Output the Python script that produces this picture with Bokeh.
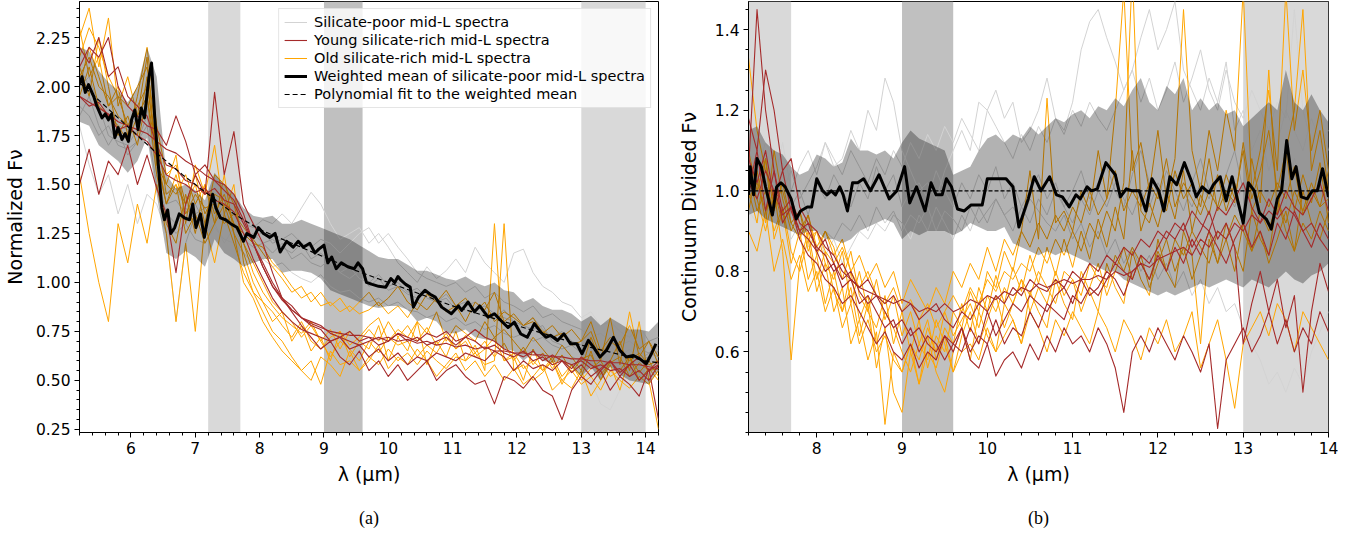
from bokeh.plotting import figure
from bokeh.models import (BoxAnnotation, FixedTicker, PrintfTickFormatter, Legend,
                          LegendItem, Title, Range1d)
from bokeh.layouts import row
from bokeh.embed import file_html
from bokeh.resources import INLINE

# ---------------- panel (a): normalized spectra ----------------
WL_A = [5.2, 5.35, 5.5, 5.65, 5.8, 5.95, 6.1, 6.25, 6.4, 6.55,
        6.7, 6.85, 7.0, 7.15, 7.3, 7.45, 7.6, 7.75, 7.9, 8.05,
        8.2, 8.35, 8.5, 8.65, 8.8, 8.95, 9.1, 9.25, 9.4, 9.55,
        9.7, 9.85, 10.0, 10.15, 10.3, 10.45, 10.6, 10.75, 10.9, 11.05,
        11.2, 11.35, 11.5, 11.65, 11.8, 11.95, 12.1, 12.25, 12.4, 12.55,
        12.7, 12.85, 13.0, 13.15, 13.3, 13.45, 13.6, 13.75, 13.9, 14.05,
        14.2]

POOR_A1 = [2.10, 2.00, 1.90, 1.85, 1.80, 1.78, 1.85, 1.95, 1.60, 1.40,
           1.42, 1.35, 1.40, 1.30, 1.38, 1.32, 1.35, 1.30, 1.28, 1.32,
           1.30, 1.35, 1.30, 1.38, 1.46, 1.40, 1.30, 1.22, 1.25, 1.28,
           1.20, 1.25, 1.18, 1.10, 1.05, 1.00, 1.08, 1.02, 1.06, 1.12,
           1.05, 1.18, 1.10, 1.05, 1.00, 1.15, 1.17, 1.05, 0.98, 0.95,
           0.90, 0.88, 0.82, 0.85, 0.78, 0.80, 0.75, 0.72, 0.78, 0.70,
           0.72]
POOR_A2 = [1.80, 1.60, 1.45, 1.55, 1.35, 1.50, 1.30, 1.45, 1.40, 1.25,
           0.80, 1.20, 1.35, 1.25, 1.30, 1.20, 1.28, 1.22, 1.18, 1.20,
           1.15, 1.20, 1.12, 1.15, 1.10, 1.08, 1.12, 1.05, 1.02, 1.06,
           0.98, 1.02, 0.96, 0.98, 0.94, 0.92, 0.95, 0.90, 0.92, 0.86,
           0.88, 0.90, 0.85, 0.82, 0.86, 0.80, 0.78, 0.82, 0.76, 0.72,
           0.75, 0.70, 0.68, 0.72, 0.65, 0.68, 0.62, 0.66, 0.60, 0.64,
           0.62]
POOR_A3 = [2.00, 2.05, 1.90, 1.75, 1.72, 1.70, 1.78, 1.90, 1.55, 1.35,
           1.30, 1.38, 1.32, 1.28, 1.35, 1.30, 1.25, 1.22, 1.25, 1.20,
           1.22, 1.18, 1.15, 1.20, 1.12, 1.15, 1.10, 1.05, 1.08, 1.02,
           1.00, 1.04, 0.98, 1.00, 0.95, 0.97, 0.92, 0.90, 0.94, 0.88,
           0.90, 0.86, 0.88, 0.84, 0.82, 0.80, 0.78, 0.76, 0.78, 0.70,
           0.68, 0.62, 0.60, 0.50, 0.38, 0.35, 0.45, 0.55, 0.60, 0.62,
           0.65]
POOR_A4 = [1.85, 1.95, 1.80, 1.70, 1.78, 1.65, 1.72, 1.85, 1.58, 1.45,
           1.48, 1.40, 1.35, 1.38, 1.32, 1.36, 1.30, 1.25, 1.22, 1.26,
           1.20, 1.22, 1.25, 1.20, 1.18, 1.22, 1.20, 1.15, 1.20, 1.25,
           1.28, 1.20, 1.25, 1.18, 1.12, 1.05, 1.02, 1.00, 0.98, 1.00,
           0.95, 0.98, 0.92, 0.95, 0.90, 0.88, 0.85, 0.88, 0.82, 0.84,
           0.80, 0.78, 0.76, 0.72, 0.74, 0.70, 0.68, 0.70, 0.66, 0.64,
           0.68]
POOR_A5 = [1.90, 1.85, 1.75, 1.80, 1.70, 1.68, 1.72, 1.80, 1.50, 1.32,
           1.25, 1.30, 1.22, 1.20, 1.28, 1.22, 1.20, 1.15, 1.10, 1.12,
           1.08, 1.10, 1.05, 1.02, 1.00, 1.04, 0.98, 0.95, 0.96, 0.92,
           0.90, 0.92, 0.88, 0.90, 0.86, 0.85, 0.82, 0.84, 0.80, 0.82,
           0.78, 0.80, 0.76, 0.78, 0.74, 0.72, 0.74, 0.70, 0.72, 0.68,
           0.66, 0.68, 0.64, 0.62, 0.60, 0.58, 0.55, 0.60, 0.56, 0.58,
           0.55]

YOUNG_A1 = [1.95, 1.92, 1.89, 1.86, 1.82, 1.80, 1.78, 1.76, 1.72, 1.68,
            1.66, 1.62, 1.59, 1.55, 1.52, 1.47, 1.42, 1.32, 1.20, 1.08,
            0.98, 0.91, 0.86, 0.82, 0.79, 0.77, 0.75, 0.74, 0.73, 0.73,
            0.72, 0.71, 0.72, 0.70, 0.71, 0.69, 0.70, 0.68, 0.69, 0.67,
            0.68, 0.66, 0.67, 0.65, 0.65, 0.64, 0.64, 0.63, 0.63, 0.62,
            0.62, 0.61, 0.61, 0.60, 0.60, 0.59, 0.59, 0.58, 0.58, 0.57,
            0.56]
YOUNG_A2 = [2.20, 2.12, 2.25, 2.05, 2.10, 1.95, 1.90, 1.85, 1.70, 1.60,
            1.58, 1.52, 1.50, 1.45, 1.48, 1.42, 1.40, 1.30, 1.20, 1.08,
            0.98, 0.92, 0.86, 0.82, 0.80, 0.78, 0.74, 0.72, 0.75, 0.70,
            0.72, 0.68, 0.70, 0.74, 0.70, 0.72, 0.68, 0.70, 0.72, 0.68,
            0.72, 0.70, 0.66, 0.68, 0.64, 0.62, 0.65, 0.60, 0.62, 0.58,
            0.60, 0.56, 0.62, 0.58, 0.55, 0.60, 0.52, 0.58, 0.62, 0.55,
            0.60]
YOUNG_A3 = [1.50, 1.68, 1.45, 1.62, 1.55, 1.70, 1.50, 1.65, 1.48, 1.35,
            1.05, 1.40, 1.55, 1.45, 1.97, 1.55, 1.77, 1.40, 1.30, 1.20,
            1.05, 0.92, 0.85, 0.78, 0.72, 0.66, 0.70, 0.62, 0.58, 0.65,
            0.55, 0.60, 0.52, 0.58, 0.50, 0.55, 0.60, 0.50, 0.55, 0.58,
            0.52, 0.48, 0.50, 0.38, 0.52, 0.50, 0.46, 0.52, 0.45, 0.42,
            0.30, 0.45, 0.52, 0.48, 0.55, 0.45, 0.52, 0.48, 0.42, 0.56,
            0.30]
YOUNG_A4 = [2.10, 2.20, 2.15, 2.25, 2.00, 1.90, 1.85, 1.80, 1.78, 1.70,
            1.85, 1.72, 1.55, 1.60, 1.52, 1.50, 1.45, 1.35, 1.20, 1.10,
            1.00, 0.92, 0.88, 0.82, 0.78, 0.76, 0.70, 0.72, 0.66, 0.68,
            0.62, 0.66, 0.60, 0.64, 0.58, 0.62, 0.60, 0.64, 0.62, 0.60,
            0.64, 0.62, 0.60, 0.65, 0.62, 0.55, 0.60, 0.56, 0.58, 0.55,
            0.60, 0.54, 0.58, 0.52, 0.56, 0.60, 0.54, 0.58, 0.50, 0.55,
            0.58]
YOUNG_A5 = [1.95, 1.90, 1.92, 1.85, 1.78, 1.80, 1.75, 1.72, 1.65, 1.55,
            1.52, 1.50, 1.46, 1.48, 1.42, 1.40, 1.36, 1.25, 1.12, 1.02,
            0.92, 0.85, 0.80, 0.76, 0.74, 0.72, 0.70, 0.72, 0.70, 0.68,
            0.70, 0.72, 0.70, 0.74, 0.72, 0.70, 0.74, 0.72, 0.75, 0.70,
            0.72, 0.76, 0.72, 0.70, 0.66, 0.64, 0.62, 0.65, 0.60, 0.63,
            0.60, 0.58, 0.60, 0.56, 0.58, 0.55, 0.56, 0.52, 0.55, 0.50,
            0.58]

OLD_A1 = [2.15, 2.30, 2.20, 2.05, 1.95, 1.90, 2.00, 2.10, 1.75, 1.45,
          1.50, 1.40, 1.55, 1.35, 1.45, 1.42, 1.30, 1.25, 1.20, 1.18,
          1.10, 1.05, 0.98, 0.92, 0.95, 0.88, 0.90, 0.85, 0.88, 0.84,
          0.86, 0.90, 0.84, 0.88, 0.82, 0.90, 0.86, 0.92, 0.85, 0.88,
          0.80, 0.90, 0.86, 0.95, 0.80, 0.84, 0.78, 0.80, 0.75, 0.72,
          0.74, 0.68, 0.70, 0.75, 0.62, 0.70, 0.66, 0.60, 0.64, 0.58,
          0.60]
OLD_A2 = [2.25, 2.40, 2.10, 2.35, 1.90, 2.05, 1.85, 2.15, 1.60, 1.50,
          1.65, 1.30, 1.60, 1.45, 1.70, 1.35, 1.50, 1.10, 0.95, 0.90,
          0.80, 0.85, 0.70, 0.78, 0.65, 0.72, 0.60, 0.75, 0.62, 0.70,
          0.66, 0.78, 0.60, 0.72, 0.65, 0.80, 0.58, 0.70, 0.62, 0.75,
          0.60, 0.68, 0.55, 1.30, 0.60, 0.62, 0.50, 0.66, 0.55, 0.60,
          0.48, 0.58, 0.52, 0.65, 0.50, 0.60, 0.70, 0.55, 0.80, 0.50,
          0.25]
OLD_A3 = [1.55, 1.25, 1.00, 0.80, 1.30, 1.10, 1.40, 1.20, 1.50, 1.25,
          0.80, 1.20, 0.75, 1.30, 1.10, 1.35, 1.20, 1.05, 0.95, 0.85,
          0.75, 0.70, 0.62, 0.55, 0.60, 0.48, 0.65, 0.58, 0.60, 0.55,
          0.62, 0.58, 0.66, 0.60, 0.64, 0.58, 0.65, 0.60, 0.56, 0.62,
          0.60, 0.64, 0.58, 0.60, 1.30, 0.55, 0.58, 0.50, 0.54, 0.60,
          0.50, 0.55, 0.48, 0.52, 0.45, 0.55, 0.50, 0.46, 0.52, 0.48,
          0.55]
OLD_A4 = [2.05, 2.15, 2.00, 1.95, 1.85, 1.80, 1.90, 2.00, 1.70, 1.50,
          1.45, 1.55, 1.40, 1.50, 1.35, 1.45, 1.30, 1.20, 1.05, 0.95,
          0.88, 0.82, 0.78, 0.74, 0.80, 0.70, 0.76, 0.66, 0.75, 0.70,
          0.76, 0.70, 0.80, 0.72, 0.78, 0.70, 0.77, 0.68, 0.74, 0.66,
          0.73, 0.64, 0.70, 0.62, 0.69, 0.60, 0.67, 0.58, 0.64, 0.56,
          0.63, 0.54, 0.61, 0.63, 0.53, 0.59, 0.62, 0.52, 0.59, 0.55,
          0.56]
OLD_A5 = [1.95, 2.10, 1.90, 1.85, 1.80, 1.72, 1.85, 1.95, 1.65, 1.40,
          1.55, 1.35, 1.45, 1.38, 1.40, 1.30, 1.35, 1.28, 1.22, 1.15,
          1.08, 1.02, 0.95, 0.98, 0.90, 0.95, 0.88, 0.92, 0.85, 0.90,
          0.95, 0.88, 0.92, 0.98, 0.90, 0.86, 0.94, 0.90, 0.96, 0.88,
          0.92, 0.85, 0.90, 0.80, 0.85, 0.82, 0.78, 0.82, 0.74, 0.78,
          0.72, 0.76, 0.70, 0.80, 0.65, 0.72, 0.68, 0.78, 0.66, 0.70,
          0.62]
OLD_A6 = [2.10, 1.95, 2.25, 2.00, 1.75, 1.85, 1.70, 1.95, 1.55, 1.30,
          1.20, 1.45, 1.25, 1.50, 1.30, 1.55, 1.25, 1.00, 0.92, 0.80,
          0.72, 0.65, 0.60, 0.55, 0.50, 0.62, 0.58, 0.52, 0.65, 0.55,
          0.60, 0.68, 0.56, 0.62, 0.58, 0.66, 0.60, 0.52, 0.58, 0.64,
          0.55, 0.60, 0.52, 0.58, 0.50, 0.56, 0.48, 0.52, 0.58, 0.45,
          0.50, 0.46, 0.55, 0.42, 0.50, 0.58, 0.45, 0.62, 0.50, 0.56,
          0.50]
OLD_A7 = [2.00, 2.20, 2.05, 1.90, 1.95, 1.80, 1.75, 2.05, 1.62, 1.40,
          1.50, 1.25, 1.35, 1.20, 1.30, 1.40, 1.25, 1.15, 1.00, 0.90,
          0.85, 0.78, 0.72, 0.80, 0.70, 0.66, 0.72, 0.75, 0.68, 0.72,
          0.78, 0.82, 0.70, 0.76, 0.72, 0.80, 0.74, 0.85, 0.70, 0.78,
          0.74, 0.70, 0.80, 0.72, 0.76, 0.70, 0.64, 0.72, 0.66, 0.60,
          0.68, 0.62, 0.55, 0.72, 0.60, 0.82, 0.58, 0.85, 0.62, 0.70,
          0.58]
OLD_A8 = [2.30, 2.05, 2.15, 1.90, 2.00, 1.75, 1.95, 2.20, 1.80, 1.55,
          1.60, 1.40, 1.50, 1.30, 1.55, 1.50, 1.40, 1.20, 1.10, 1.00,
          0.90, 0.85, 0.80, 0.72, 0.78, 0.70, 0.62, 0.70, 0.66, 0.60,
          0.70, 0.64, 0.72, 0.68, 0.70, 0.62, 0.68, 0.64, 0.72, 0.66,
          0.70, 0.62, 0.66, 0.72, 0.60, 0.64, 0.56, 0.60, 0.55, 0.62,
          0.52, 0.58, 0.50, 0.56, 0.60, 0.52, 0.55, 0.62, 0.54, 0.60,
          0.52]

BAND_A_HI = [2.20, 2.18, 2.08, 2.02, 1.98, 1.92, 2.00, 2.20, 2.05, 1.55,
             1.48, 1.50, 1.47, 1.42, 1.56, 1.50, 1.45, 1.38, 1.34, 1.33,
             1.34, 1.30, 1.30, 1.32, 1.30, 1.28, 1.26, 1.24, 1.22, 1.19,
             1.16, 1.13, 1.12, 1.12, 1.09, 1.06, 1.06, 1.04, 1.02, 1.01,
             1.03, 1.00, 0.98, 1.00, 0.96, 0.95, 0.90, 0.92, 0.88, 0.86,
             0.86, 0.84, 0.80, 0.83, 0.78, 0.82, 0.79, 0.76, 0.76, 0.75,
             0.80]
BAND_A_LO = [1.82, 1.80, 1.70, 1.66, 1.62, 1.56, 1.62, 1.74, 1.45, 1.15,
             1.12, 1.16, 1.13, 1.08, 1.22, 1.15, 1.12, 1.08, 1.10, 1.12,
             1.12, 1.05, 1.06, 1.06, 1.05, 1.02, 0.96, 0.94, 0.92, 0.90,
             0.88, 0.87, 0.88, 0.88, 0.86, 0.80, 0.82, 0.80, 0.74, 0.74,
             0.76, 0.72, 0.71, 0.70, 0.66, 0.65, 0.60, 0.64, 0.60, 0.59,
             0.60, 0.57, 0.52, 0.57, 0.50, 0.57, 0.53, 0.50, 0.49, 0.48,
             0.55]

MEAN_A_WL = [5.2, 5.24, 5.29, 5.34, 5.42, 5.47, 5.55, 5.6, 5.65, 5.7,
             5.75, 5.8, 5.86, 5.91, 5.96, 6.01, 6.06, 6.11, 6.16, 6.21,
             6.28, 6.32, 6.37, 6.42, 6.48, 6.52, 6.57, 6.62, 6.68, 6.75,
             6.83, 6.91, 6.96, 7.01, 7.08, 7.14, 7.19, 7.27, 7.32, 7.39,
             7.47, 7.55, 7.65, 7.75, 7.8, 7.91, 7.98, 8.06, 8.16, 8.24,
             8.32, 8.42, 8.52, 8.6, 8.68, 8.78, 8.86, 8.92, 9.0, 9.06,
             9.12, 9.19, 9.27, 9.37, 9.47, 9.53, 9.6, 9.66, 9.75, 9.85,
             9.96, 10.04, 10.1, 10.15, 10.2, 10.27, 10.34, 10.39, 10.47, 10.57,
             10.65, 10.73, 10.83, 10.98, 11.09, 11.14, 11.24, 11.34, 11.42, 11.55,
             11.65, 11.75, 11.86, 11.96, 12.06, 12.16, 12.27, 12.37, 12.45, 12.52,
             12.63, 12.73, 12.83, 12.93, 13.01, 13.11, 13.19, 13.29, 13.39, 13.5,
             13.6, 13.7, 13.81, 13.91, 14.01, 14.09, 14.16]
MEAN_A = [2.01, 2.05, 1.97, 2.01, 1.95, 1.90, 1.84, 1.86, 1.83, 1.86,
          1.74, 1.79, 1.73, 1.76, 1.72, 1.83, 1.88, 1.78, 1.89, 1.84,
          2.05, 2.12, 1.84, 1.62, 1.38, 1.32, 1.37, 1.25, 1.28, 1.35,
          1.33, 1.32, 1.40, 1.28, 1.35, 1.23, 1.32, 1.45, 1.38, 1.33,
          1.32, 1.30, 1.28, 1.21, 1.25, 1.23, 1.28, 1.25, 1.23, 1.25,
          1.155, 1.21, 1.18, 1.21, 1.18, 1.20, 1.15, 1.17, 1.19, 1.10,
          1.13, 1.07, 1.10, 1.08, 1.07, 1.10, 1.07, 1.00, 0.99, 0.98,
          0.976, 1.02, 1.00, 1.03, 1.01, 0.99, 0.976, 0.874, 0.925, 0.96,
          0.94, 0.925, 0.874, 0.84, 0.88, 0.857, 0.90, 0.85, 0.88, 0.823,
          0.84, 0.806, 0.77, 0.797, 0.737, 0.72, 0.79, 0.746, 0.72, 0.73,
          0.704, 0.738, 0.687, 0.687, 0.636, 0.704, 0.67, 0.619, 0.653, 0.72,
          0.653, 0.619, 0.627, 0.61, 0.585, 0.636, 0.687]

FIT_A_WL = [5.2, 5.6, 6.0, 6.4, 6.8, 7.2, 7.6, 8.0, 8.5, 9.0, 9.5,
            10.0, 10.5, 11.0, 11.5, 12.0, 12.5, 13.0, 13.5, 14.0, 14.2]
FIT_A = [2.02, 1.90, 1.78, 1.66, 1.55, 1.45, 1.35, 1.27, 1.20, 1.13, 1.06,
         1.00, 0.94, 0.88, 0.83, 0.78, 0.73, 0.68, 0.64, 0.60, 0.59]

# ---------------- panel (b): continuum divided spectra ----------------
WL_B = [7.2, 7.3, 7.4, 7.5, 7.6, 7.7, 7.8, 7.9, 8.0, 8.1,
        8.2, 8.3, 8.4, 8.5, 8.6, 8.7, 8.8, 8.9, 9.0, 9.1,
        9.2, 9.3, 9.4, 9.5, 9.6, 9.7, 9.8, 9.9, 10.0, 10.1,
        10.2, 10.3, 10.4, 10.5, 10.6, 10.7, 10.8, 10.9, 11.0, 11.1,
        11.2, 11.3, 11.4, 11.5, 11.6, 11.7, 11.8, 11.9, 12.0, 12.1,
        12.2, 12.3, 12.4, 12.5, 12.6, 12.7, 12.8, 12.9, 13.0, 13.1,
        13.2, 13.3, 13.4, 13.5, 13.6, 13.7, 13.8, 13.9, 14.0]

POOR_B1 = [1.05, 1.00, 1.08, 1.02, 1.12, 1.00, 1.06, 1.10, 1.04, 1.12,
           1.06, 1.08, 1.15, 1.10, 1.20, 1.15, 1.28, 1.22, 1.10, 1.05,
           1.00, 1.02, 0.98, 1.05, 1.10, 1.15, 1.10, 1.22, 1.20, 1.25,
           1.18, 1.22, 1.12, 1.15, 1.20, 1.28, 1.18, 1.15, 1.22, 1.35,
           1.42, 1.45, 1.38, 1.32, 1.25, 1.30, 1.38, 1.45, 1.35, 1.40,
           1.47, 1.30, 1.25, 1.20, 1.28, 1.22, 1.32, 1.15, 1.20, 1.10,
           1.15, 1.05, 1.12, 1.20, 1.15, 1.10, 1.18, 1.12, 1.15]
POOR_B2 = [0.98, 1.02, 0.95, 1.00, 1.05, 0.96, 1.00, 0.94, 1.02, 0.98,
           1.04, 1.00, 0.96, 1.02, 0.98, 1.06, 1.00, 1.04, 0.96, 1.00,
           1.02, 0.98, 1.05, 1.00, 0.96, 1.02, 0.98, 1.04, 1.00, 1.06,
           0.98, 1.02, 0.96, 1.00, 1.04, 0.98, 1.02, 0.96, 1.00, 1.05,
           0.98, 1.02, 1.06, 1.00, 0.96, 1.04, 1.10, 1.02, 0.98, 1.05,
           1.00, 0.95, 1.02, 1.08, 1.00, 0.96, 1.04, 1.10, 1.00, 0.95,
           1.05, 1.12, 1.00, 0.96, 1.08, 1.02, 0.98, 1.06, 1.00]
POOR_B3 = [1.00, 0.96, 0.92, 0.98, 0.90, 0.95, 0.88, 0.92, 0.86, 0.90,
           0.88, 0.92, 0.90, 0.94, 0.90, 0.96, 0.92, 0.95, 0.90, 0.94,
           0.92, 0.96, 0.90, 0.95, 0.93, 0.90, 0.96, 0.92, 0.95, 0.98,
           0.94, 0.96, 0.92, 0.98, 0.95, 0.92, 0.90, 0.94, 0.88, 0.92,
           0.86, 0.90, 0.84, 0.88, 0.82, 0.86, 0.80, 0.84, 0.78, 0.82,
           0.76, 0.80, 0.74, 0.78, 0.72, 0.76, 0.70, 0.72, 0.66, 0.62,
           0.58, 0.52, 0.55, 0.50, 0.56, 0.52, 0.60, 0.65, 0.70]
POOR_B4 = [1.10, 1.05, 1.12, 1.08, 1.00, 1.05, 0.98, 1.02, 1.06, 1.12,
           1.08, 1.04, 1.10, 1.06, 1.02, 1.08, 1.04, 1.10, 1.06, 1.12,
           1.08, 1.14, 1.10, 1.16, 1.12, 1.18, 1.14, 1.10, 1.20, 1.16,
           1.12, 1.08, 1.14, 1.10, 1.16, 1.12, 1.18, 1.14, 1.20, 1.16,
           1.22, 1.18, 1.15, 1.20, 1.25, 1.30, 1.22, 1.28, 1.20, 1.25,
           1.32, 1.22, 1.28, 1.35, 1.25, 1.20, 1.30, 1.22, 1.18, 1.25,
           1.20, 1.15, 1.22, 1.18, 1.45, 1.20, 1.12, 1.18, 1.10]
POOR_B5 = [0.95, 0.92, 0.98, 0.90, 0.94, 0.88, 0.92, 0.86, 0.90, 0.84,
           0.88, 0.82, 0.86, 0.90, 0.88, 0.92, 0.90, 0.94, 0.92, 0.88,
           0.94, 0.90, 0.96, 0.92, 0.88, 0.94, 0.90, 0.96, 0.92, 0.98,
           0.94, 0.90, 0.96, 0.92, 0.98, 0.94, 1.00, 0.96, 0.92, 0.98,
           0.94, 1.00, 0.96, 1.02, 0.98, 0.94, 1.00, 0.96, 1.02, 0.98,
           1.04, 1.00, 0.96, 1.02, 0.98, 1.04, 1.00, 0.96, 1.02, 0.98,
           0.94, 1.00, 0.96, 1.02, 0.98, 0.94, 1.00, 0.96, 1.00]

YOUNG_B1 = [1.05, 1.45, 1.20, 1.05, 0.95, 0.98, 0.92, 0.90, 0.86, 0.84,
            0.80, 0.82, 0.78, 0.76, 0.78, 0.74, 0.72, 0.74, 0.70, 0.72,
            0.68, 0.70, 0.72, 0.68, 0.66, 0.70, 0.68, 0.72, 0.70, 0.74,
            0.72, 0.76, 0.74, 0.78, 0.76, 0.75, 0.78, 0.76, 0.80, 0.78,
            0.82, 0.80, 0.84, 0.82, 0.86, 0.84, 0.88, 0.86, 0.90, 0.88,
            0.92, 0.90, 0.95, 0.92, 0.90, 0.96, 0.94, 0.98, 1.02, 0.96,
            0.92, 0.98, 0.94, 1.00, 0.96, 0.94, 0.98, 1.02, 0.95]
YOUNG_B2 = [1.18, 1.10, 1.30, 1.20, 1.05, 1.08, 0.96, 0.92, 0.90, 0.86,
            0.84, 0.80, 0.78, 0.76, 0.75, 0.74, 0.73, 0.72, 0.73, 0.72,
            0.70, 0.71, 0.70, 0.72, 0.70, 0.71, 0.73, 0.72, 0.74, 0.73,
            0.75, 0.74, 0.76, 0.75, 0.77, 0.76, 0.77, 0.78, 0.77, 0.78,
            0.78, 0.79, 0.78, 0.80, 0.79, 0.80, 0.82, 0.81, 0.83, 0.84,
            0.85, 0.86, 0.84, 0.88, 0.86, 0.90, 0.88, 0.92, 0.90, 0.94,
            0.92, 0.95, 0.93, 0.96, 0.94, 0.90, 0.92, 0.88, 0.85]
YOUNG_B3 = [1.00, 1.10, 0.95, 1.05, 0.92, 0.96, 0.88, 0.84, 0.82, 0.78,
            0.76, 0.72, 0.74, 0.70, 0.66, 0.62, 0.65, 0.60, 0.58, 0.62,
            0.56, 0.60, 0.58, 0.64, 0.60, 0.66, 0.58, 0.56, 0.62, 0.54,
            0.58, 0.60, 0.56, 0.62, 0.58, 0.64, 0.60, 0.66, 0.62, 0.64,
            0.60, 0.66, 0.62, 0.56, 0.45, 0.60, 0.64, 0.60, 0.66, 0.62,
            0.58, 0.64, 0.60, 0.55, 0.62, 0.41, 0.58, 0.62, 0.66, 0.60,
            0.64, 0.70, 0.62, 0.68, 0.60, 0.66, 0.62, 0.70, 0.65]
YOUNG_B4 = [1.02, 0.98, 1.05, 1.00, 0.94, 0.96, 0.90, 0.88, 0.85, 0.80,
            0.82, 0.76, 0.78, 0.72, 0.74, 0.70, 0.66, 0.68, 0.62, 0.66,
            0.60, 0.64, 0.62, 0.58, 0.62, 0.66, 0.60, 0.64, 0.62, 0.68,
            0.62, 0.66, 0.64, 0.70, 0.66, 0.72, 0.70, 0.68, 0.74, 0.72,
            0.76, 0.74, 0.78, 0.82, 0.80, 0.78, 0.84, 0.82, 0.86, 0.90,
            0.88, 0.92, 0.86, 0.90, 0.95, 0.88, 0.92, 0.86, 0.62, 0.72,
            0.80, 0.70, 0.78, 0.66, 0.74, 0.50, 0.70, 0.82, 0.75]
YOUNG_B5 = [1.08, 1.02, 1.10, 0.98, 1.05, 0.95, 0.90, 0.92, 0.85, 0.88,
            0.82, 0.78, 0.80, 0.75, 0.72, 0.74, 0.70, 0.66, 0.68, 0.64,
            0.66, 0.62, 0.60, 0.64, 0.62, 0.60, 0.66, 0.62, 0.70, 0.64,
            0.68, 0.72, 0.70, 0.74, 0.72, 0.70, 0.74, 0.76, 0.72, 0.78,
            0.74, 0.76, 0.80, 0.78, 0.74, 0.80, 0.82, 0.78, 0.84, 0.80,
            0.86, 0.82, 0.88, 0.84, 0.90, 0.86, 0.82, 0.88, 0.92, 0.86,
            0.90, 0.84, 0.92, 0.88, 0.95, 0.90, 0.86, 0.92, 0.88]

OLD_B1 = [1.33, 1.15, 1.05, 0.98, 1.00, 0.92, 0.95, 0.88, 0.90, 0.85,
          0.82, 0.86, 0.80, 0.76, 0.80, 0.74, 0.72, 0.76, 0.70, 0.73,
          0.68, 0.72, 0.66, 0.70, 0.74, 0.70, 0.76, 0.72, 0.78, 0.75,
          0.80, 0.78, 0.82, 0.80, 0.86, 0.82, 0.88, 0.84, 0.90, 0.85,
          0.92, 0.88, 0.95, 0.90, 1.02, 1.55, 0.95, 0.92, 1.00, 0.95,
          1.05, 0.98, 1.02, 0.96, 1.08, 0.95, 1.00, 0.97, 1.12, 0.98,
          1.05, 1.15, 1.00, 1.10, 1.20, 1.45, 1.05, 1.15, 1.00]
OLD_B2 = [1.05, 0.95, 1.00, 0.90, 0.96, 0.85, 0.80, 0.88, 0.75, 0.82,
          0.70, 0.76, 0.62, 0.68, 0.58, 0.65, 0.42, 0.60, 0.55, 0.62,
          0.58, 0.66, 0.60, 0.70, 0.64, 0.68, 0.72, 0.66, 0.74, 0.70,
          0.76, 0.72, 0.78, 0.74, 0.80, 0.76, 0.72, 0.80, 0.78, 0.74,
          0.82, 0.78, 0.76, 0.84, 0.80, 0.86, 0.82, 0.78, 0.85, 0.80,
          0.88, 0.84, 0.90, 0.86, 0.82, 0.90, 0.88, 0.94, 0.90, 0.85,
          0.95, 0.90, 0.98, 0.92, 1.00, 0.95, 1.02, 0.96, 1.05]
OLD_B3 = [0.95, 1.05, 0.92, 1.10, 0.98, 0.90, 0.95, 0.85, 0.90, 0.82,
          0.78, 0.85, 0.72, 0.80, 0.70, 0.66, 0.74, 0.62, 0.70, 0.60,
          0.68, 0.56, 0.64, 0.60, 0.70, 0.66, 0.75, 0.70, 0.80, 0.76,
          0.85, 0.80, 0.90, 1.05, 0.88, 1.23, 0.92, 0.95, 0.90, 1.00,
          0.95, 1.10, 0.98, 1.20, 1.50, 1.05, 1.12, 1.00, 1.15, 0.98,
          1.08, 1.45, 1.10, 1.00, 1.15, 1.05, 1.20, 1.10, 1.50, 1.00,
          1.10, 1.25, 1.05, 1.50, 1.15, 1.30, 1.10, 1.20, 1.05]
OLD_B4 = [0.90, 0.85, 0.95, 0.80, 0.88, 0.78, 0.84, 0.75, 0.80, 0.70,
          0.76, 0.66, 0.72, 0.62, 0.68, 0.60, 0.64, 0.58, 0.55, 0.62,
          0.52, 0.60, 0.56, 0.64, 0.55, 0.60, 0.62, 0.58, 0.66, 0.60,
          0.64, 0.68, 0.62, 0.70, 0.66, 0.60, 0.68, 0.64, 0.70, 0.66,
          0.62, 0.70, 0.66, 0.60, 0.68, 0.64, 0.58, 0.66, 0.62, 0.68,
          0.60, 0.64, 0.70, 0.56, 0.62, 0.68, 0.58, 0.46, 0.62, 0.66,
          0.70, 0.64, 0.72, 0.68, 0.60, 0.70, 0.66, 0.62, 0.58]
OLD_B5 = [1.10, 1.00, 1.08, 0.95, 1.02, 0.92, 0.88, 0.94, 0.84, 0.90,
          0.86, 0.78, 0.85, 0.74, 0.70, 0.78, 0.68, 0.74, 0.64, 0.70,
          0.62, 0.68, 0.58, 0.66, 0.62, 0.72, 0.65, 0.76, 0.70, 0.79,
          0.72, 0.81, 0.75, 0.84, 0.77, 0.86, 0.79, 0.88, 0.81, 0.90,
          0.83, 0.93, 0.86, 0.96, 0.88, 1.10, 0.90, 0.97, 0.91, 1.00,
          0.93, 1.05, 0.90, 0.99, 0.94, 1.04, 0.95, 1.02, 0.92, 1.08,
          0.97, 1.30, 0.94, 1.10, 0.95, 1.04, 0.97, 1.07, 0.92]
OLD_B6 = [1.00, 0.92, 1.08, 0.88, 0.95, 0.82, 0.90, 0.78, 0.84, 0.72,
          0.80, 0.70, 0.76, 0.64, 0.72, 0.56, 0.66, 0.50, 0.45, 0.60,
          0.52, 0.64, 0.55, 0.50, 0.60, 0.66, 0.58, 0.70, 0.64, 0.60,
          0.72, 0.68, 0.62, 0.75, 0.70, 0.66, 0.78, 0.72, 0.68, 0.80,
          0.75, 0.70, 0.82, 0.76, 0.72, 0.85, 0.78, 0.74, 0.88, 0.80,
          0.76, 0.90, 0.84, 0.62, 0.88, 0.82, 0.92, 0.86, 0.80, 0.95,
          0.88, 0.84, 0.98, 0.90, 0.85, 1.00, 0.92, 0.88, 0.95]
OLD_B7 = [1.05, 0.98, 0.90, 1.00, 0.85, 0.58, 0.82, 0.90, 0.78, 0.85,
          0.75, 0.70, 0.80, 0.68, 0.74, 0.62, 0.70, 0.66, 0.60, 0.55,
          0.62, 0.58, 0.68, 0.62, 0.55, 0.64, 0.70, 0.62, 0.68, 0.74,
          0.66, 0.72, 0.78, 0.70, 0.76, 0.72, 0.80, 0.74, 0.78, 0.70,
          0.76, 0.82, 0.74, 0.80, 0.86, 0.78, 0.84, 0.76, 0.82, 0.88,
          0.80, 0.86, 0.78, 0.84, 0.90, 0.82, 0.88, 0.80, 0.92, 0.85,
          0.90, 0.82, 0.88, 0.95, 0.85, 0.92, 0.88, 0.95, 0.90]
OLD_B8 = [0.98, 1.02, 0.95, 1.00, 0.92, 0.96, 0.90, 0.94, 0.86, 0.90,
          0.84, 0.88, 0.80, 0.84, 0.78, 0.82, 0.76, 0.80, 0.72, 0.78,
          0.74, 0.70, 0.76, 0.72, 0.80, 0.76, 0.82, 0.78, 0.86, 0.80,
          0.88, 0.84, 0.90, 0.86, 0.92, 0.88, 0.94, 0.90, 0.96, 0.92,
          1.00, 0.94, 0.98, 1.05, 0.95, 1.00, 0.96, 1.02, 0.98, 1.08,
          0.96, 1.02, 0.98, 0.94, 1.00, 0.96, 1.04, 0.98, 1.10, 0.95,
          1.00, 0.96, 1.02, 0.98, 1.06, 0.94, 1.00, 0.96, 0.98]

BAND_B_HI = [1.15, 1.16, 1.12, 1.10, 1.09, 1.06, 1.04, 1.05, 1.09, 1.08,
             1.06, 1.07, 1.13, 1.10, 1.10, 1.09, 1.10, 1.08, 1.12, 1.15,
             1.13, 1.12, 1.11, 1.10, 1.04, 1.05, 1.06, 1.10, 1.13, 1.14,
             1.12, 1.14, 1.13, 1.16, 1.14, 1.16, 1.18, 1.17, 1.19, 1.20,
             1.18, 1.21, 1.20, 1.23, 1.21, 1.25, 1.28, 1.22, 1.20, 1.26,
             1.24, 1.28, 1.20, 1.23, 1.20, 1.22, 1.19, 1.20, 1.16, 1.18,
             1.20, 1.22, 1.20, 1.30, 1.22, 1.20, 1.24, 1.20, 1.17]
BAND_B_LO = [0.94, 0.95, 0.93, 0.92, 0.91, 0.90, 0.89, 0.90, 0.90, 0.88,
             0.88, 0.87, 0.88, 0.90, 0.91, 0.92, 0.93, 0.92, 0.88, 0.90,
             0.89, 0.90, 0.90, 0.90, 0.89, 0.90, 0.92, 0.91, 0.90, 0.90,
             0.91, 0.87, 0.86, 0.85, 0.84, 0.85, 0.84, 0.85, 0.84, 0.83,
             0.82, 0.81, 0.80, 0.80, 0.78, 0.77, 0.76, 0.75, 0.74, 0.75,
             0.74, 0.75, 0.76, 0.77, 0.76, 0.77, 0.78, 0.77, 0.76, 0.78,
             0.77, 0.76, 0.78, 0.80, 0.78, 0.77, 0.79, 0.80, 0.82]

MEAN_B_WL = [7.2, 7.22, 7.26, 7.3, 7.35, 7.4, 7.48, 7.53, 7.58, 7.63,
             7.7, 7.76, 7.81, 7.89, 7.94, 8.0, 8.07, 8.12, 8.17, 8.22,
             8.27, 8.31, 8.36, 8.42, 8.48, 8.55, 8.63, 8.73, 8.85, 8.94,
             9.03, 9.09, 9.17, 9.27, 9.34, 9.4, 9.47, 9.52, 9.58, 9.65,
             9.73, 9.81, 9.94, 10.0, 10.22, 10.3, 10.37, 10.48, 10.55, 10.63,
             10.73, 10.81, 10.88, 10.96, 11.04, 11.09, 11.17, 11.22, 11.29, 11.39,
             11.5, 11.56, 11.63, 11.7, 11.78, 11.86, 11.93, 12.01, 12.07, 12.14,
             12.22, 12.31, 12.4, 12.45, 12.52, 12.6, 12.65, 12.73, 12.8, 12.87,
             12.93, 13.0, 13.06, 13.13, 13.19, 13.27, 13.33, 13.4, 13.45, 13.51,
             13.57, 13.62, 13.68, 13.75, 13.81, 13.87, 13.93, 14.0]
MEAN_B = [0.99, 1.06, 0.99, 1.08, 1.06, 1.01, 0.94, 1.01, 1.02, 1.01,
          0.98, 0.93, 0.95, 0.96, 0.96, 1.03, 1.00, 0.99, 1.00, 0.99,
          1.01, 0.99, 0.95, 1.02, 1.02, 1.03, 1.00, 1.04, 0.98, 1.00,
          1.06, 0.97, 1.01, 0.95, 1.02, 0.99, 0.99, 1.03, 1.01, 0.955,
          0.95, 0.965, 0.965, 1.03, 1.03, 1.01, 0.91, 0.98, 1.035, 1.00,
          1.035, 0.99, 0.985, 0.96, 0.99, 0.98, 1.01, 1.00, 1.005, 1.07,
          1.04, 0.985, 1.005, 1.00, 1.00, 0.95, 1.03, 1.00, 0.95, 1.035,
          1.015, 1.07, 1.02, 0.985, 1.01, 0.995, 1.015, 1.035, 0.975, 1.035,
          0.98, 0.92, 1.02, 1.00, 0.945, 0.93, 0.905, 0.98, 1.00, 1.125,
          1.03, 1.06, 0.985, 0.98, 1.00, 1.00, 1.055, 0.985]

FIT_B_WL = [7.2, 14.0]
FIT_B = [1.0, 1.0]

# shaded wavelength windows: (start, end, colour)
WINDOWS = [(7.2, 7.7, "#d9d9d9"), (9.0, 9.6, "#c0c0c0"), (13.0, 14.0, "#d9d9d9")]

LABELS = ["Silicate-poor mid-L spectra", "Young silicate-rich mid-L spectra",
          "Old silicate-rich mid-L spectra", "Weighted mean of silicate-poor mid-L spectra",
          "Polynomial fit to the weighted mean"]

POOR_A = [POOR_A1, POOR_A2, POOR_A3, POOR_A4, POOR_A5]
YOUNG_A = [YOUNG_A1, YOUNG_A2, YOUNG_A3, YOUNG_A4, YOUNG_A5]
OLD_A = [OLD_A1, OLD_A2, OLD_A3, OLD_A4, OLD_A5, OLD_A6, OLD_A7, OLD_A8]
POOR_B = [POOR_B1, POOR_B2, POOR_B3, POOR_B4, POOR_B5]
YOUNG_B = [YOUNG_B1, YOUNG_B2, YOUNG_B3, YOUNG_B4, YOUNG_B5]
OLD_B = [OLD_B1, OLD_B2, OLD_B3, OLD_B4, OLD_B5, OLD_B6, OLD_B7, OLD_B8]

for name, grp, n in [("A", POOR_A + YOUNG_A + OLD_A + [BAND_A_HI, BAND_A_LO], len(WL_A)),
                     ("B", POOR_B + YOUNG_B + OLD_B + [BAND_B_HI, BAND_B_LO], len(WL_B))]:
    for i, s in enumerate(grp):
        if len(s) != n:
            raise ValueError(f"panel {name} series {i} has {len(s)} values, expected {n}")

GRAY = "#d3d3d3"
RED = "#a52a2a"
ORANGE = "#ffa500"
FONT = "DejaVu Sans"


def make_panel(x_rng, y_rng, frame_w, border_l, border_r, ylabel, caption,
               y_major, y_fmt, x_major, x_minor, y_minor, label_standoff):
    p = figure(frame_width=frame_w, frame_height=431, x_range=Range1d(*x_rng),
               y_range=Range1d(*y_rng), output_backend="svg", toolbar_location=None,
               min_border_left=border_l, min_border_right=border_r,
               min_border_top=1, min_border_bottom=99)
    p.grid.visible = False
    p.outline_line_color = "black"
    p.outline_line_width = 1
    p.background_fill_color = "white"
    p.border_fill_color = "white"
    for ax in (p.xaxis[0], p.yaxis[0]):
        ax.axis_line_color = "black"
        ax.major_tick_line_color = "black"
        ax.minor_tick_line_color = "black"
        ax.major_tick_out = 5
        ax.major_tick_in = 0
        ax.minor_tick_out = 3
        ax.minor_tick_in = 0
        ax.major_label_text_font = FONT
        ax.major_label_text_font_size = "15.5px"
        ax.major_label_text_color = "black"
        ax.axis_label_text_font = FONT
        ax.axis_label_text_font_size = "19px"
        ax.axis_label_text_font_style = "normal"
        ax.axis_label_text_color = "black"
        ax.major_label_standoff = 4
    p.xaxis.ticker = FixedTicker(ticks=x_major, minor_ticks=x_minor)
    p.xaxis.formatter = PrintfTickFormatter(format="%d")
    p.yaxis.ticker = FixedTicker(ticks=y_major, minor_ticks=y_minor)
    p.yaxis.formatter = PrintfTickFormatter(format=y_fmt)
    p.xaxis.axis_label = "λ (μm)"
    p.xaxis.axis_label_standoff = 6
    p.yaxis.axis_label = ylabel
    p.yaxis.axis_label_standoff = label_standoff
    for (a, b, col) in WINDOWS:
        p.add_layout(BoxAnnotation(left=a, right=b, fill_color=col, fill_alpha=1.0,
                                   line_alpha=0, level="underlay"))
    p.add_layout(Title(text=caption, align="center", text_font="Liberation Serif",
                       text_font_size="18px", text_font_style="normal",
                       text_color="black", standoff=37), "below")
    return p


def draw(p, wl, poor, young, old, lo, hi, mwl, mean, fwl, fit, dash):
    r_poor = p.multi_line(xs=[wl] * len(poor), ys=poor, line_color=GRAY,
                          line_width=1, line_join="round")
    r_old = p.multi_line(xs=[wl] * len(old), ys=old, line_color=ORANGE,
                         line_width=1, line_join="round")
    p.varea(x=wl, y1=lo, y2=hi, fill_color="black", fill_alpha=0.3)
    r_young = p.multi_line(xs=[wl] * len(young), ys=young, line_color=RED,
                           line_width=1.1, line_join="round")
    r_mean = p.line(mwl, mean, line_color="black", line_width=3, line_join="round")
    r_fit = p.line(fwl, fit, line_color="black", line_width=1.2, line_dash=dash)
    return r_poor, r_young, r_old, r_mean, r_fit


minor_a = [round(5.2 + 0.2 * i, 1) for i in range(46)]
minor_b = [round(7.2 + 0.2 * i, 1) for i in range(35)]

p1 = make_panel((5.2, 14.2), (0.234, 2.434), 579, 60, 16, "Normalized Fν", "(a)",
                [0.25, 0.5, 0.75, 1.0, 1.25, 1.5, 1.75, 2.0, 2.25], "%.2f",
                list(range(6, 15)), minor_a,
                [round(0.25 + 0.05 * i, 2) for i in range(44)], 7)
rends = draw(p1, WL_A, POOR_A, YOUNG_A, OLD_A, BAND_A_LO, BAND_A_HI,
             MEAN_A_WL, MEAN_A, FIT_A_WL, FIT_A, "5 3")

legend = Legend(items=[LegendItem(label=l, renderers=[r]) for l, r in zip(LABELS, rends)],
                location="top_right", margin=7, padding=5, spacing=2,
                glyph_width=23, glyph_height=16, label_height=16, label_standoff=7,
                label_text_font=FONT, label_text_font_size="14.5px", label_text_color="black",
                background_fill_color="white", background_fill_alpha=0.8,
                border_line_color="#cccccc", border_line_width=1)
p1.add_layout(legend)

p2 = make_panel((7.2, 14.0), (0.40, 1.47), 580, 70, 10, "Continuum Divided Fν", "(b)",
                [0.6, 0.8, 1.0, 1.2, 1.4], "%.1f",
                list(range(8, 15)), minor_b,
                [round(0.4 + 0.05 * i, 2) for i in range(22)], 12)
draw(p2, WL_B, POOR_B, YOUNG_B, OLD_B, BAND_B_LO, BAND_B_HI,
     MEAN_B_WL, MEAN_B, FIT_B_WL, FIT_B, "4 2")

layout = row(p1, p2)
open("out.html", "w").write(file_html(layout, INLINE))
